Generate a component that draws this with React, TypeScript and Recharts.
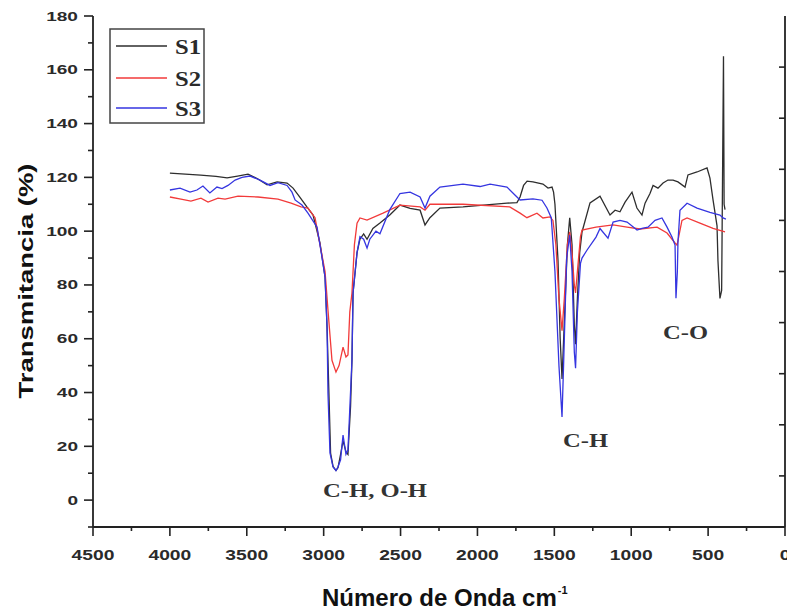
import React from 'react';
import { LineChart, Line, XAxis, YAxis } from 'recharts';

// [wavenumber (cm-1), transmittance (%)]
const s1Spectrum: [number, number][] = [
  [4000, 121.6], [3900, 121.2], [3800, 120.8], [3700, 120.4], [3628, 119.8], [3560, 120.5], [3492, 121.2],
  [3430, 119.5], [3368, 117.2], [3303, 118.3], [3238, 117.9], [3199, 116], [3154, 112.6], [3108, 108.9],
  [3069, 106], [3024, 95.6], [2991, 82.9], [2978, 64.3], [2966, 40], [2955, 17.5], [2939, 12.5], [2920, 11],
  [2907, 12], [2890, 17], [2874, 22], [2855, 18], [2842, 17], [2825, 35], [2816, 52], [2809, 77], [2783, 92],
  [2764, 97], [2740, 99], [2718, 97], [2680, 101], [2634, 103], [2570, 106], [2504, 109.7], [2438, 108.5],
  [2373, 107.8], [2341, 102.3], [2309, 105], [2244, 108.6], [2094, 109], [1808, 110.4], [1743, 110.6],
  [1723, 112.7], [1700, 117], [1677, 118.6], [1639, 118.3], [1574, 117.5], [1541, 116], [1515, 116.4],
  [1505, 114.5], [1496, 110], [1476, 89], [1462, 60], [1450, 45], [1438, 62], [1415, 95], [1400, 105],
  [1385, 95], [1370, 65], [1362, 58], [1350, 75], [1335, 92], [1320, 99.7], [1268, 110.5], [1203, 113],
  [1138, 106], [1105, 107.8], [1073, 107.2], [1040, 110.8], [995, 114.5], [963, 108.6], [930, 106],
  [910, 110.4], [878, 114], [858, 117], [826, 116], [793, 117.9], [761, 119], [728, 119], [696, 118.3],
  [650, 116.4], [631, 120.9], [572, 122], [507, 123.5], [488, 119.7], [468, 111.6], [442, 102], [436, 89],
  [423, 75], [412, 78], [400, 165], [396, 110], [390, 108],
];

const s2Spectrum: [number, number][] = [
  [4000, 112.7], [3928, 111.9], [3863, 111.2], [3798, 112.3], [3752, 110.8], [3687, 112.3], [3641, 111.9],
  [3557, 113], [3427, 112.7], [3297, 111.9], [3212, 110.4], [3147, 109], [3102, 108.6], [3056, 105],
  [3024, 95], [2991, 85], [2972, 70.7], [2946, 52], [2920, 47.6], [2900, 50], [2874, 56.9], [2855, 53.2],
  [2842, 54], [2830, 70], [2816, 77], [2800, 95], [2783, 103], [2764, 104.9], [2718, 104.1], [2614, 106.7],
  [2504, 109.7], [2373, 109], [2341, 107.8], [2309, 110], [2094, 110], [1790, 109], [1723, 106.7],
  [1678, 105], [1613, 106.7], [1574, 104.9], [1528, 105.3], [1509, 104], [1490, 95], [1470, 75],
  [1450, 63], [1435, 75], [1415, 95], [1400, 99.7], [1385, 92], [1370, 80], [1362, 77], [1350, 85],
  [1330, 98], [1320, 100.4], [1229, 101.5], [1118, 102.3], [1027, 101.5], [943, 100.8], [832, 101.5],
  [767, 99.3], [715, 95.6], [702, 94.8], [670, 104], [637, 104.9], [553, 103], [468, 101], [390, 99.7],
];

const s3Spectrum: [number, number][] = [
  [4000, 115.3], [3934, 116], [3869, 114.5], [3824, 115.3], [3785, 116.8], [3740, 114.2], [3694, 116.4],
  [3661, 115.8], [3622, 117], [3576, 119], [3531, 120], [3479, 120.5], [3414, 119], [3349, 117],
  [3297, 118], [3238, 117], [3206, 114.5], [3186, 111.6], [3141, 109.7], [3102, 106.7], [3043, 101.5],
  [3010, 90], [2991, 82.9], [2978, 64.3], [2972, 39.8], [2959, 17.5], [2939, 12.3], [2920, 11],
  [2907, 12.3], [2890, 15], [2874, 24.2], [2855, 17], [2842, 18.6], [2816, 52.1], [2809, 77], [2783, 92],
  [2764, 98], [2740, 97], [2718, 93.7], [2700, 97], [2660, 100], [2634, 99], [2570, 108], [2504, 114],
  [2438, 114.5], [2373, 112.7], [2341, 108.6], [2309, 113], [2244, 116.4], [2094, 117.5], [1983, 116.6],
  [1918, 117.5], [1808, 116.4], [1743, 112.7], [1723, 111.6], [1639, 112], [1580, 111.5], [1548, 108.6],
  [1520, 105], [1496, 85], [1470, 50], [1450, 30.9], [1440, 50], [1420, 90], [1400, 98.5], [1385, 85],
  [1370, 55], [1362, 49], [1350, 70], [1330, 88], [1320, 90], [1287, 93], [1229, 97.8], [1203, 101],
  [1151, 97.4], [1118, 103.4], [1073, 104], [1027, 103.4], [962, 100.4], [930, 101], [891, 101.5],
  [845, 104], [800, 104.9], [767, 101.5], [735, 97.8], [715, 94.8], [709, 75.1], [700, 85], [696, 96],
  [683, 107.8], [637, 110.4], [572, 108.6], [488, 107], [423, 106], [403, 104.9], [384, 104.5],
];

const seriesNames = ['S1', 'S2', 'S3'];
const seriesColors = ['#2e2e2e', '#f23a3a', '#3535e0'];

const xMajorTicks = [0, 500, 1000, 1500, 2000, 2500, 3000, 3500, 4000, 4500];
const xMinorTicks = [250, 750, 1250, 1750, 2250, 2750, 3250, 3750, 4250];
const yMajorTicks = [0, 20, 40, 60, 80, 100, 120, 140, 160, 180];
const yMinorTicks = [-10, 10, 30, 50, 70, 90, 110, 130, 150, 170];
const topTicks = [450, 900, 1350, 1800, 2250, 2700, 3150, 3600, 4050];
const rightTicks = [9, 28, 47, 66, 85, 104, 123, 142, 161];

const xTitle = 'Número de Onda cm';
const xTitleSup = '-1';
const yTitle = 'Transmitancia (%)';
const bandLabels = ['C-H, O-H', 'C-H', 'C-O'];

const toRows = (pts: [number, number][]) => pts.map(([wn, t]) => ({ wn, t }));

const AX = '#222';
const TXT = '#2a2a2a';
const SANS = '"Liberation Sans", Arial, sans-serif';
const SERIF = '"Liberation Serif", "Times New Roman", serif';

const XTick = (props: any) => {
  const { x, y, payload } = props;
  const v = payload.value;
  const major = xMajorTicks.includes(v);
  const label = String(v);
  return (
    <g>
      <line x1={x} x2={x} y1={y} y2={y + (major ? 9 : 4)} stroke={AX} strokeWidth={1.6} />
      {major && (
        <text x={x} y={y + 33} textAnchor="middle" fontFamily={SANS} fontWeight="bold" fontSize={14}
          fill={TXT} textLength={label.length * 10.7} lengthAdjust="spacingAndGlyphs">{label}</text>
      )}
    </g>
  );
};

const YTick = (props: any) => {
  const { x, y, payload } = props;
  const v = payload.value;
  const major = yMajorTicks.includes(v);
  const label = String(v);
  return (
    <g>
      <line x1={x - (major ? 9 : 5)} x2={x} y1={y} y2={y} stroke={AX} strokeWidth={1.6} />
      {major && (
        <text x={x - 15} y={y + 4.5} textAnchor="end" fontFamily={SANS} fontWeight="bold" fontSize={12}
          fill={TXT} textLength={label.length * 10.6} lengthAdjust="spacingAndGlyphs">{label}</text>
      )}
    </g>
  );
};

const TopTick = (props: any) => {
  const { x, y } = props;
  return <line x1={x} x2={x} y1={y} y2={y + 6} stroke={AX} strokeWidth={1.6} />;
};

const RightTick = (props: any) => {
  const { x, y } = props;
  return <line x1={x - 6} x2={x} y1={y} y2={y} stroke={AX} strokeWidth={1.6} />;
};

const spectra = [s1Spectrum, s2Spectrum, s3Spectrum];

export default function App() {
  return (
    <div style={{ position: 'absolute', left: 0, top: 0, width: 787, height: 610, background: '#fff' }}>
      <LineChart width={787} height={610} margin={{ top: 16, right: 0, bottom: 0, left: 0 }}>
        <XAxis xAxisId={0} dataKey="wn" type="number" domain={[0, 4500]} reversed allowDataOverflow
          ticks={[...xMajorTicks, ...xMinorTicks]} interval={0} height={83} tickSize={0} tickMargin={0}
          tickLine={false} tick={<XTick />} axisLine={{ stroke: AX, strokeWidth: 1.8 }} />
        <XAxis xAxisId="top" orientation="top" type="number" domain={[0, 4500]} reversed allowDataOverflow
          ticks={topTicks} interval={0} height={0} tickSize={0} tickMargin={0} tickLine={false}
          tick={<TopTick />} axisLine={{ stroke: AX, strokeWidth: 1.8 }} />
        <YAxis yAxisId={0} type="number" domain={[-10, 180]} allowDataOverflow
          ticks={[...yMajorTicks, ...yMinorTicks]} interval={0} width={93} tickSize={0} tickMargin={0}
          tickLine={false} tick={<YTick />} axisLine={{ stroke: AX, strokeWidth: 1.8 }} />
        <YAxis yAxisId="right" orientation="right" type="number" domain={[-10, 180]} allowDataOverflow
          ticks={rightTicks} interval={0} width={2} tickSize={0} tickMargin={0} tickLine={false}
          tick={<RightTick />} axisLine={{ stroke: AX, strokeWidth: 1.8 }} />
        {spectra.map((pts, i) => (
          <Line key={seriesNames[i]} xAxisId={0} yAxisId={0} data={toRows(pts)} dataKey="t" name={seriesNames[i]}
            type="linear" stroke={seriesColors[i]} strokeWidth={1.3} dot={false} activeDot={false}
            isAnimationActive={false} />
        ))}
      </LineChart>
      <svg width={787} height={610} style={{ position: 'absolute', left: 0, top: 0, pointerEvents: 'none' }}>
        {/* legend */}
        <rect x={110} y={29} width={94} height={94} fill="#fff" stroke="#444" strokeWidth={1.5} />
        {seriesNames.map((n, i) => {
          const ly = [46, 78, 108][i];
          return (
            <g key={n}>
              <line x1={116} x2={167} y1={ly} y2={ly} stroke={seriesColors[i]} strokeWidth={1.4} />
              <text x={175} y={ly + 7.5} fontFamily={SERIF} fontWeight="bold" fontSize={20} fill={TXT}
                textLength={26} lengthAdjust="spacingAndGlyphs">{n}</text>
            </g>
          );
        })}
        {/* band annotations */}
        <text x={323} y={497} fontFamily={SERIF} fontWeight="bold" fontSize={19} fill="#333"
          textLength={104} lengthAdjust="spacingAndGlyphs">{bandLabels[0]}</text>
        <text x={563} y={447} fontFamily={SERIF} fontWeight="bold" fontSize={19} fill="#333"
          textLength={45} lengthAdjust="spacingAndGlyphs">{bandLabels[1]}</text>
        <text x={663} y={339} fontFamily={SERIF} fontWeight="bold" fontSize={19} fill="#333"
          textLength={45} lengthAdjust="spacingAndGlyphs">{bandLabels[2]}</text>
        {/* axis titles */}
        <text transform="translate(33,281) rotate(-90)" textAnchor="middle" fontFamily={SANS} fontWeight="bold"
          fontSize={21} fill="#111" textLength={235} lengthAdjust="spacingAndGlyphs">{yTitle}</text>
        <text x={322} y={606} fontFamily={'"Liberation Sans Narrow", ' + SANS} fontWeight="bold" fontSize={24}
          fill="#111">
          {xTitle}
          <tspan dx={1} dy={-12} fontSize={11}>{xTitleSup}</tspan>
        </text>
      </svg>
    </div>
  );
}
